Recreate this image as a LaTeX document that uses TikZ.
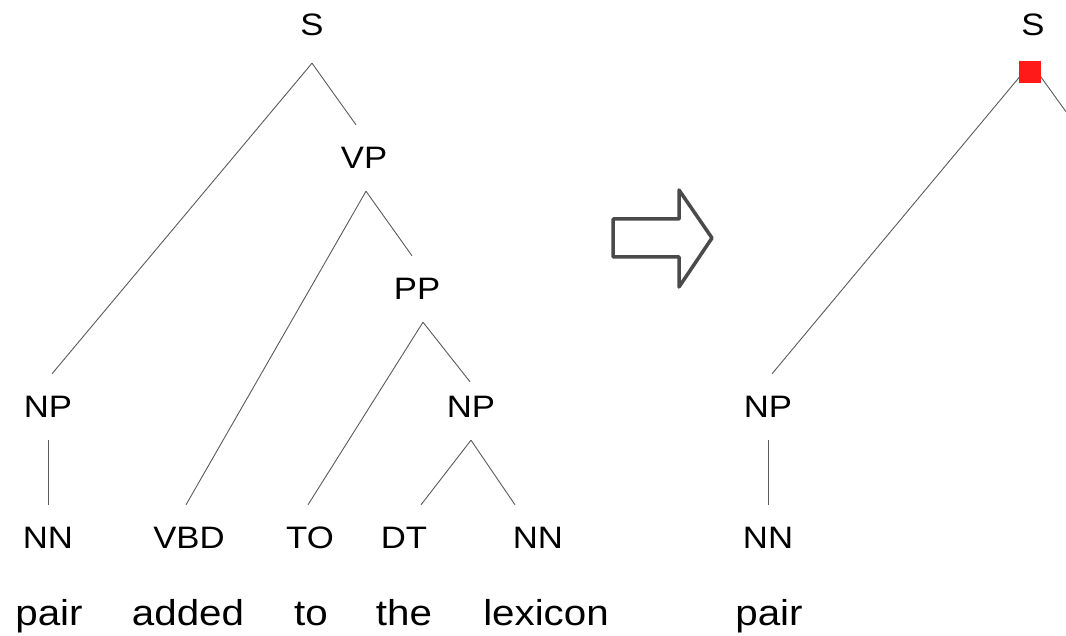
\documentclass[tikz,border=0pt]{standalone}
\usepackage{fontspec}
\setmainfont{Liberation Sans}[FakeStretch=1.12]
\definecolor{edgegray}{HTML}{5A5A5A}
\definecolor{arrowgray}{HTML}{4A4A4A}
\definecolor{markred}{HTML}{FF1A1A}

\begin{document}
\begin{tikzpicture}[
    x=1pt, y=-1pt,
    tag/.style={
        rectangle,
        inner sep=0pt,
        minimum height=66pt,
        font=\fontsize{31}{36}\selectfont,
        text centered,
        anchor=center
    },
    word/.style={
        inner sep=0pt,
        font=\fontsize{36}{42}\selectfont,
        anchor=base
    },
    edge/.style={
        draw=edgegray,
        line width=0.9pt
    },
]
    \path[use as bounding box] (0,0) rectangle (1066,636);
    \clip (0,0) rectangle (1066,636);

    % left tree
    \node (S) [tag, minimum height=76pt] at (312,25) {S};
    \node (VP) [tag] at (364,158) {VP};
    \node (PP) [tag] at (417,289) {PP};
    \node (NPa) [tag] at (48,407) {NP};
    \node (NPb) [tag] at (471,407) {NP};
    \node (NNa) [tag] at (48,538) {NN};
    \node (VBD) [tag] at (189,538) {VBD};
    \node (TO) [tag] at (310,538) {TO};
    \node (DT) [tag] at (404,538) {DT};
    \node (NNb) [tag] at (538,538) {NN};

    \node (pair) [word] at (49,625) {pair};
    \node (added) [word] at (188,625) {added};
    \node (to) [word] at (311,625) {to};
    \node (the) [word] at (404,625) {the};
    \node (lexicon) [word] at (546,625) {lexicon};

    \draw[edge] (S.south) -- ([xshift=4pt]NPa.north);
    \draw[edge] (S.south) -- ([xshift=-8pt]VP.north);
    \draw[edge] ([xshift=2pt]VP.south) -- ([xshift=-3pt]VBD.north);
    \draw[edge] ([xshift=2pt]VP.south) -- ([xshift=-5pt]PP.north);
    \draw[edge] ([xshift=6pt]PP.south) -- ([xshift=-2pt]TO.north);
    \draw[edge] ([xshift=6pt]PP.south) -- ([xshift=-1pt,yshift=-8pt]NPb.north);
    \draw[edge] (NPb.south) -- ([xshift=17pt]DT.north);
    \draw[edge] (NPb.south) -- ([xshift=-23pt]NNb.north);
    \draw[edge] (NPa.south) -- (NNa.north);

    % arrow
    \draw[draw=arrowgray, line width=3.5pt, line join=round]
        (613,219) -- (679,219) -- (679,190) -- (712,238)
        -- (679,287) -- (679,257) -- (613,257) -- cycle;

    % right tree
    \node (Sr) [tag, minimum height=76pt] at (1033,25) {S};
    \node (NPr) [tag] at (768,407) {NP};
    \node (NNr) [tag] at (768,538) {NN};
    \node (pairr) [word] at (769,625) {pair};
    \coordinate (VPr) at (1077,127);

    \draw[edge] ([xshift=-2pt]Sr.south) -- ([xshift=4pt]NPr.north);
    \draw[edge] ([xshift=-2pt]Sr.south) -- (VPr);
    \draw[edge] (NPr.south) -- (NNr.north);
    \node (mark) [fill=markred, minimum size=22pt, inner sep=0pt] at (1030,72) {};
\end{tikzpicture}
\end{document}
